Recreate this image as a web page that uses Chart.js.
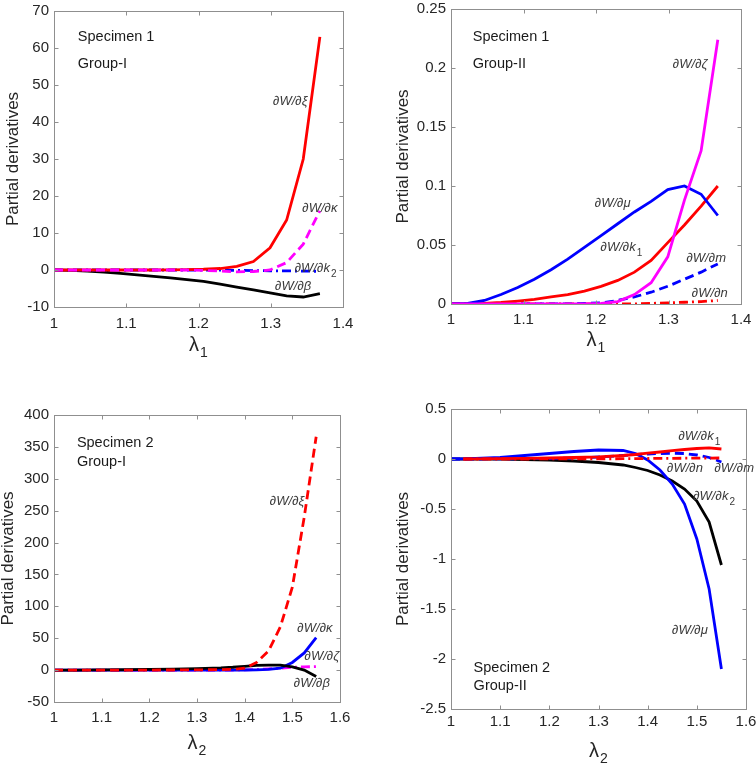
<!DOCTYPE html>
<html>
<head>
<meta charset="utf-8">
<title>Partial derivatives</title>
<script src="https://cdn.jsdelivr.net/npm/chart.js@4.4.1/dist/chart.umd.min.js"></script>
<style>
body { margin: 0; background: #fff; }
#wrap { position: relative; width: 756px; height: 763px; overflow: hidden; }
canvas { position: absolute; }
</style>
</head>
<body>
<div id="wrap">
  <canvas id="c1"></canvas>
  <canvas id="c2"></canvas>
  <canvas id="c3"></canvas>
  <canvas id="c4"></canvas>
</div>
<script>
// stretch values, specimen 1 (lambda_1) and specimen 2 (lambda_2)
var lam1 = [1, 1.023, 1.046, 1.069, 1.092, 1.115, 1.138, 1.161, 1.184, 1.207, 1.23, 1.253, 1.276, 1.299, 1.322, 1.345, 1.368];
var lam2 = [1, 1.025, 1.05, 1.1, 1.15, 1.2, 1.25, 1.3, 1.35, 1.375, 1.4, 1.425, 1.45, 1.475, 1.5, 1.525, 1.55];

// specimen 1, group I
var s1g1Xi    = [0, 0, 0, 0, 0, 0, 0, 0.05, 0.1, 0.2, 0.4, 1, 2.3, 6, 13.5, 30, 63];
var s1g1Kappa = [0, 0, 0, 0, 0, 0, 0, 0, 0, -0.1, -0.3, -0.5, -0.4, 0, 2, 7, 16];
var s1g1K2    = [0, 0, 0, 0, 0, 0, 0, 0, 0, 0, -0.05, -0.1, -0.15, -0.2, -0.25, -0.3, -0.35];
var s1g1Beta  = [0, -0.1, -0.3, -0.6, -0.9, -1.3, -1.7, -2.1, -2.6, -3.1, -3.8, -4.6, -5.4, -6.2, -7.0, -7.3, -6.4];

// specimen 1, group II
var s1g2Zeta = [0, 0, 0, 0, 0, 0, 0, 0, 0, 0.0005, 0.002, 0.008, 0.018, 0.04, 0.088, 0.13, 0.224];
var s1g2Mu   = [0, 0.0005, 0.003, 0.008, 0.014, 0.021, 0.029, 0.038, 0.048, 0.058, 0.068, 0.078, 0.087, 0.097, 0.1, 0.093, 0.075];
var s1g2K1   = [0, 0.0001, 0.0005, 0.0013, 0.0025, 0.004, 0.006, 0.008, 0.011, 0.015, 0.02, 0.027, 0.037, 0.052, 0.067, 0.083, 0.1];
var s1g2M    = [0, 0, 0, 0, 0, 0, 0, 0, 0.0005, 0.001, 0.003, 0.006, 0.01, 0.015, 0.021, 0.027, 0.034];
var s1g2N    = [0, 0, 0, 0, 0, 0, 0, 0, 0, 0, 0, 0, 0.0005, 0.001, 0.0015, 0.002, 0.003];

// specimen 2, group I
var s2g1Xi    = [0, 0, 0, 0, 0, 0.1, 0.2, 0.4, 0.8, 1.2, 3, 12, 30, 68, 130, 240, 366];
var s2g1Kappa = [0, 0, 0, 0, 0, 0, 0, 0, 0, 0, 0.2, 0.5, 1, 3, 12, 27, 51];
var s2g1Zeta  = [0, 0, 0, 0, 0, 0, 0, 0, 0, 0.2, 0.5, 1, 2, 3, 4.5, 5, 5.5];
var s2g1Beta  = [0, 0, 0.1, 0.3, 0.6, 1, 1.6, 2.4, 3.5, 4.5, 6, 7.3, 7.8, 7.8, 5, 0, -10];

// specimen 2, group II
var s2g2Mu = [0, 0.002, 0.005, 0.015, 0.035, 0.055, 0.075, 0.09, 0.085, 0.055, -0.01, -0.11, -0.25, -0.45, -0.8, -1.3, -2.1];
var s2g2K2 = [0, 0, 0, -0.002, -0.005, -0.01, -0.02, -0.035, -0.06, -0.085, -0.115, -0.16, -0.22, -0.3, -0.42, -0.63, -1.06];
var s2g2K1 = [null, 0, 0.001, 0.003, 0.006, 0.01, 0.015, 0.022, 0.035, 0.045, 0.058, 0.07, 0.083, 0.095, 0.105, 0.112, 0.1];
var s2g2M  = [0, 0, 0, 0.001, 0.003, 0.005, 0.01, 0.02, 0.035, 0.045, 0.05, 0.055, 0.058, 0.055, 0.04, 0.015, -0.03];
var s2g2N  = [null, 0, 0, 0, 0, 0.001, 0.001, 0.002, 0.003, 0.004, 0.005, 0.006, 0.007, 0.008, 0.008, 0.009, 0.01];

// tick values
var xTicks1 = [1, 1.1, 1.2, 1.3, 1.4];
var xTicks2 = [1, 1.1, 1.2, 1.3, 1.4, 1.5, 1.6];
var yTicksA = [-10, 0, 10, 20, 30, 40, 50, 60, 70];
var yTicksB = [0, 0.05, 0.1, 0.15, 0.2, 0.25];
var yTicksC = [-50, 0, 50, 100, 150, 200, 250, 300, 350, 400];
var yTicksD = [-2.5, -2, -1.5, -1, -0.5, 0, 0.5];

var RED = '#ff0000', BLUE = '#0000ff', MAG = '#ff00ff', BLK = '#000000';
var DASH = [9, 5], DASHDOT = [9, 4, 2, 4];
var FONT = '"Liberation Sans", Arial, sans-serif';

function pts(xs, ys) {
  return xs.map(function (x, i) { return { x: x, y: ys[i] }; });
}
function ds(xs, ys, color, dash) {
  return {
    data: pts(xs, ys), borderColor: color, borderWidth: 2.8,
    borderDash: dash || [], pointRadius: 0, tension: 0, fill: false
  };
}
function fmt(v) { return String(+(+v).toFixed(3)); }

var panels = [
  {
    id: 'c1', box: [54, 9, 343, 307], yW: 54, yDx: 41, xDy: 38, xPad: 8,
    xMin: 1, xMax: 1.4, xTicks: xTicks1, yMin: -10, yMax: 70, yTicks: yTicksA, sub: '1',
    data: [
      ds(lam1, s1g1Kappa, MAG, DASH),
      ds(lam1, s1g1Xi, RED),
      ds(lam1, s1g1K2, BLUE, DASHDOT),
      ds(lam1, s1g1Beta, BLK)
    ],
    head: ['Specimen 1', 'Group-I'], headAt: [1.033, 63, 27],
    labels: [
      { t: '\u2202W/\u2202\u03be', x: 1.327, y: 45.6 },
      { t: '\u2202W/\u2202\u03ba', x: 1.368, y: 16.6 },
      { t: '\u2202W/\u2202k', s: '2', x: 1.362, y: 0.4 },
      { t: '\u2202W/\u2202\u03b2', x: 1.331, y: -4.4 }
    ]
  },
  {
    id: 'c2', box: [451, 7, 741, 304], yW: 60, yDx: 48, xDy: 36, xPad: 7,
    xMin: 1, xMax: 1.4, xTicks: xTicks1, yMin: 0, yMax: 0.25, yTicks: yTicksB, sub: '1',
    data: [
      ds(lam1, s1g2Zeta, MAG),
      ds(lam1, s1g2Mu, BLUE),
      ds(lam1, s1g2K1, RED),
      ds(lam1, s1g2M, BLUE, DASH),
      ds(lam1, s1g2N, RED, DASHDOT)
    ],
    head: ['Specimen 1', 'Group-II'], headAt: [1.03, 0.2264, 27],
    labels: [
      { t: '\u2202W/\u2202\u03b6', x: 1.33, y: 0.203 },
      { t: '\u2202W/\u2202\u03bc', x: 1.223, y: 0.085 },
      { t: '\u2202W/\u2202k', s: '1', x: 1.235, y: 0.048 },
      { t: '\u2202W/\u2202m', x: 1.352, y: 0.0387 },
      { t: '\u2202W/\u2202n', x: 1.357, y: 0.0093 }
    ]
  },
  {
    id: 'c3', box: [54, 413, 340, 702], yW: 54, yDx: 46, xDy: 41, xPad: 7,
    xMin: 1, xMax: 1.6, xTicks: xTicks2, yMin: -50, yMax: 400, yTicks: yTicksC, sub: '2',
    data: [
      ds(lam2, s2g1Xi, RED, DASH),
      ds(lam2, s2g1Beta, BLK),
      ds(lam2, s2g1Kappa, BLUE),
      ds(lam2, s2g1Zeta, MAG, DASHDOT)
    ],
    head: ['Specimen 2', 'Group-I'], headAt: [1.048, 356.6, 19],
    labels: [
      { t: '\u2202W/\u2202\u03be', x: 1.489, y: 264.7 },
      { t: '\u2202W/\u2202\u03ba', x: 1.5475, y: 65.4 },
      { t: '\u2202W/\u2202\u03b6', x: 1.562, y: 21.8 },
      { t: '\u2202W/\u2202\u03b2', x: 1.541, y: -20.2 }
    ]
  },
  {
    id: 'c4', box: [451, 407, 746, 709], yW: 60, yDx: 48, xDy: 42, xPad: 4,
    xMin: 1, xMax: 1.6, xTicks: xTicks2, yMin: -2.5, yMax: 0.5, yTicks: yTicksD, sub: '2',
    data: [
      ds(lam2, s2g2N, RED, DASHDOT),
      ds(lam2, s2g2K1, RED),
      ds(lam2, s2g2M, BLUE, DASH),
      ds(lam2, s2g2Mu, BLUE),
      ds(lam2, s2g2K2, BLK)
    ],
    head: ['Specimen 2', 'Group-II'], headAt: [1.046, -2.09, 18],
    labels: [
      { t: '\u2202W/\u2202k', s: '1', x: 1.505, y: 0.225 },
      { t: '\u2202W/\u2202n', x: 1.476, y: -0.092 },
      { t: '\u2202W/\u2202m', x: 1.576, y: -0.092 },
      { t: '\u2202W/\u2202k', s: '2', x: 1.535, y: -0.37 },
      { t: '\u2202W/\u2202\u03bc', x: 1.486, y: -1.71 }
    ]
  }
];

var PAD_T = 12, PAD_R = 20, X_H = 60;

var framePlugin = {
  id: 'frame',
  afterDraw: function (chart) {
    var p = chart.options.plugins.frame.panel;
    var ctx = chart.ctx, a = chart.chartArea;
    var xs = chart.scales.x, ys = chart.scales.y;
    var L = Math.round(a.left) + 0.5, T = Math.round(a.top) + 0.5;
    var R = Math.round(a.right) + 0.5, B = Math.round(a.bottom) + 0.5;
    ctx.save();
    ctx.strokeStyle = '#8f8f8f';
    ctx.lineWidth = 1;
    ctx.strokeRect(L, T, R - L, B - T);
    ctx.beginPath();
    p.xTicks.forEach(function (v) {
      var px = Math.round(xs.getPixelForValue(v)) + 0.5;
      ctx.moveTo(px, B); ctx.lineTo(px, B - 4);
      ctx.moveTo(px, T); ctx.lineTo(px, T + 4);
    });
    p.yTicks.forEach(function (v) {
      var py = Math.round(ys.getPixelForValue(v)) + 0.5;
      ctx.moveTo(L, py); ctx.lineTo(L + 4, py);
      ctx.moveTo(R, py); ctx.lineTo(R - 4, py);
    });
    ctx.stroke();

    // y axis title
    ctx.fillStyle = '#262626';
    ctx.textAlign = 'center';
    ctx.textBaseline = 'middle';
    ctx.save();
    ctx.translate(a.left - p.yDx, (a.top + a.bottom) / 2);
    ctx.rotate(-Math.PI / 2);
    ctx.font = '17px ' + FONT;
    ctx.fillText('Partial derivatives', 0, 0);
    ctx.restore();

    // x axis title: lambda with subscript
    var cx = (a.left + a.right) / 2, cy = a.bottom + p.xDy;
    ctx.font = '20px ' + FONT;
    var w1 = ctx.measureText('\u03bb').width;
    ctx.font = '14px ' + FONT;
    var w2 = ctx.measureText(p.sub).width;
    var x0 = cx - (w1 + w2 + 1) / 2;
    ctx.textAlign = 'left';
    ctx.font = '20px ' + FONT;
    ctx.fillText('\u03bb', x0, cy);
    ctx.font = '14px ' + FONT;
    ctx.fillText(p.sub, x0 + w1 + 1, cy + 8);

    // specimen / group text
    ctx.fillStyle = '#1a1a1a';
    ctx.font = '14.5px ' + FONT;
    var hx = xs.getPixelForValue(p.headAt[0]), hy = ys.getPixelForValue(p.headAt[1]);
    ctx.fillText(p.head[0], hx, hy);
    ctx.fillText(p.head[1], hx, hy + p.headAt[2]);

    // curve labels
    ctx.fillStyle = '#3a3a3a';
    p.labels.forEach(function (l) {
      ctx.font = 'italic 13px ' + FONT;
      var wt = ctx.measureText(l.t).width, ws = 0;
      ctx.font = '10px ' + FONT;
      if (l.s) ws = ctx.measureText(l.s).width + 1;
      var lx = xs.getPixelForValue(l.x) - (wt + ws) / 2, ly = ys.getPixelForValue(l.y);
      ctx.font = 'italic 13px ' + FONT;
      ctx.fillText(l.t, lx, ly);
      if (l.s) {
        ctx.font = '10px ' + FONT;
        ctx.fillText(l.s, lx + wt + 1, ly + 6);
      }
    });
    ctx.restore();
  }
};

panels.forEach(function (p) {
  var cv = document.getElementById(p.id);
  var pw = p.box[2] - p.box[0], ph = p.box[3] - p.box[1];
  cv.width = p.yW + pw + PAD_R;
  cv.height = PAD_T + ph + X_H;
  cv.style.left = (p.box[0] - p.yW) + 'px';
  cv.style.top = (p.box[1] - PAD_T) + 'px';
  cv.style.width = cv.width + 'px';
  cv.style.height = cv.height + 'px';

  new Chart(cv, {
    type: 'line',
    data: { datasets: p.data },
    plugins: [framePlugin],
    options: {
      responsive: false,
      animation: false,
      devicePixelRatio: 1,
      layout: { padding: { top: PAD_T, right: PAD_R, left: 0, bottom: 0 } },
      plugins: {
        legend: { display: false },
        tooltip: { enabled: false },
        frame: { panel: p }
      },
      scales: {
        x: {
          type: 'linear', min: p.xMin, max: p.xMax,
          grid: { display: false, drawTicks: false },
          border: { display: false },
          afterBuildTicks: function (s) { s.ticks = p.xTicks.map(function (v) { return { value: v }; }); },
          afterFit: function (s) { s.height = X_H; },
          ticks: {
            padding: p.xPad, color: '#262626', maxRotation: 0,
            font: { family: FONT, size: 15 },
            callback: fmt
          }
        },
        y: {
          type: 'linear', min: p.yMin, max: p.yMax,
          grid: { display: false, drawTicks: false },
          border: { display: false },
          afterBuildTicks: function (s) { s.ticks = p.yTicks.map(function (v) { return { value: v }; }); },
          afterFit: function (s) { s.width = p.yW; },
          ticks: {
            padding: 5, color: '#262626',
            font: { family: FONT, size: 15 },
            callback: fmt
          }
        }
      }
    }
  });
});
</script>
</body>
</html>
